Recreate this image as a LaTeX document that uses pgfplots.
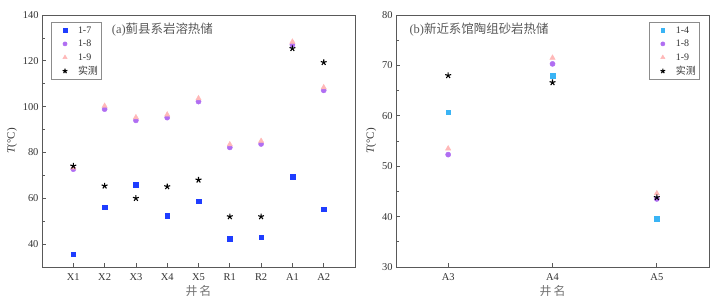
\documentclass[border=0pt]{standalone}
\usepackage{fontspec}
\setmainfont{Liberation Serif}
\newfontfamily\cjk{Noto Sans CJK SC}
\usepackage{pgfplots}
\pgfplotsset{compat=1.18}
\definecolor{cA}{HTML}{1F3DFF}
\definecolor{cB}{HTML}{B06EF2}
\definecolor{cC}{HTML}{FFB8B8}
\definecolor{cD}{HTML}{3AB4F5}
\definecolor{txt}{HTML}{333333}
\pgfplotsset{
  myaxis/.style={
    scale only axis, anchor=south west,
    width=313bp, height=252bp,
    axis line style={draw=black!65, line width=0.9pt},
    tick style={draw=black!65, line width=0.7pt},
    major tick length=4bp, minor tick length=2.5bp,
    tick align=inside, tick pos=left,
    minor y tick num=1,
    ticklabel style={font=\fontsize{10.5}{12}\selectfont, text=txt},
    xticklabel style={yshift=-3.5bp},
    /pgf/number format/assume math mode=true,
    xlabel={\cjk 井\,名}, xlabel style={font=\fontsize{12}{14}\selectfont, text=black!55, yshift=2bp},
    ylabel={\textit{T}(°C)}, ylabel style={font=\fontsize{11}{13}\selectfont, text=txt, yshift=-1bp},
    legend cell align=left,
    legend image code/.code={\path[draw=none,fill=none] (0bp,0bp) -- (24bp,0bp); \draw[##1] plot coordinates {(12bp,0bp)};},
    legend image post style={every mark/.append style={scale=0.8}},
    legend style={font=\fontsize{10}{11}\selectfont, draw=black!45, line width=0.5pt,
      inner xsep=2bp, inner ysep=2bp, row sep=1.6bp, text=txt,
      nodes={inner sep=1bp, text height=8bp, text depth=2bp},
      /tikz/every even column/.append style={column sep=1bp}},
  }
}
\begin{document}
\begin{tikzpicture}[x=1bp,y=1bp]
\path[use as bounding box] (0,0) rectangle (721,305);
\begin{axis}[myaxis, at={(42bp,38bp)},
  xmin=-1, xmax=9, ymin=30, ymax=140,
  ytick={40,60,80,100,120,140},
  xtick={0,1,2,3,4,5,6,7,8},
  xticklabels={X1,X2,X3,X4,X5,R1,R2,A1,A2},
  legend style={at={(0.028,0.972)}, anchor=north west}]
\addplot[only marks, mark=square*, mark size=2.3pt, color=cA] coordinates {
(0,35.6) (1,56.1) (2,65.8) (3,52.3) (4,58.8) (5,42.4) (6,43.0) (7,69.4) (8,55.2)};
\addlegendentry{1-7}
\addplot[only marks, mark=*, mark size=2.6pt, color=cB] coordinates {
(0,72.7) (1,98.9) (2,94.0) (3,95.2) (4,102.2) (5,82.2) (6,83.7) (7,127.0) (8,107.1)};
\addlegendentry{1-8}
\addplot[only marks, mark=triangle*, mark size=3.1pt, color=cC] coordinates {
(0,73.4) (1,100.3) (2,95.3) (3,96.5) (4,103.6) (5,83.5) (6,85.0) (7,128.3) (8,108.4)};
\addlegendentry{1-9}
\addplot[only marks, mark=star, mark size=3.1pt, color=black, mark options={line width=1.1pt}] coordinates {
(0,74.1) (1,65.4) (2,60.0) (3,65.1) (4,68.0) (5,52.0) (6,52.0) (7,125.4) (8,119.3)};
\addlegendentry{\cjk 实测}
\node[anchor=west, font=\fontsize{12.5}{14}\selectfont, text=black!65] at (rel axis cs:0.212,0.944) {(a)\cjk 蓟县系岩溶热储};
\end{axis}
\begin{axis}[myaxis, at={(396bp,38bp)},
  xmin=-0.5, xmax=2.5, ymin=30, ymax=80,
  ytick={30,40,50,60,70,80},
  xtick={0,1,2},
  xticklabels={A3,A4,A5},
  legend style={at={(0.968,0.972)}, anchor=north east}]
\addplot[only marks, mark=square*, mark size=2.3pt, color=cD] coordinates {
(0,60.7) (1,67.9) (2,39.6)};
\addlegendentry{1-4}
\addplot[only marks, mark=*, mark size=2.6pt, color=cB] coordinates {
(0,52.3) (1,70.3) (2,43.5)};
\addlegendentry{1-8}
\addplot[only marks, mark=triangle*, mark size=3.1pt, color=cC] coordinates {
(0,53.5) (1,71.5) (2,44.6)};
\addlegendentry{1-9}
\addplot[only marks, mark=star, mark size=3.1pt, color=black, mark options={line width=1.1pt}] coordinates {
(0,68.0) (1,66.6) (2,43.8)};
\addlegendentry{\cjk 实测}
\node[anchor=west, font=\fontsize{12.5}{14}\selectfont, text=black!65] at (rel axis cs:0.032,0.944) {(b)\cjk 新近系馆陶组砂岩热储};
\end{axis}
\end{tikzpicture}
\end{document}
